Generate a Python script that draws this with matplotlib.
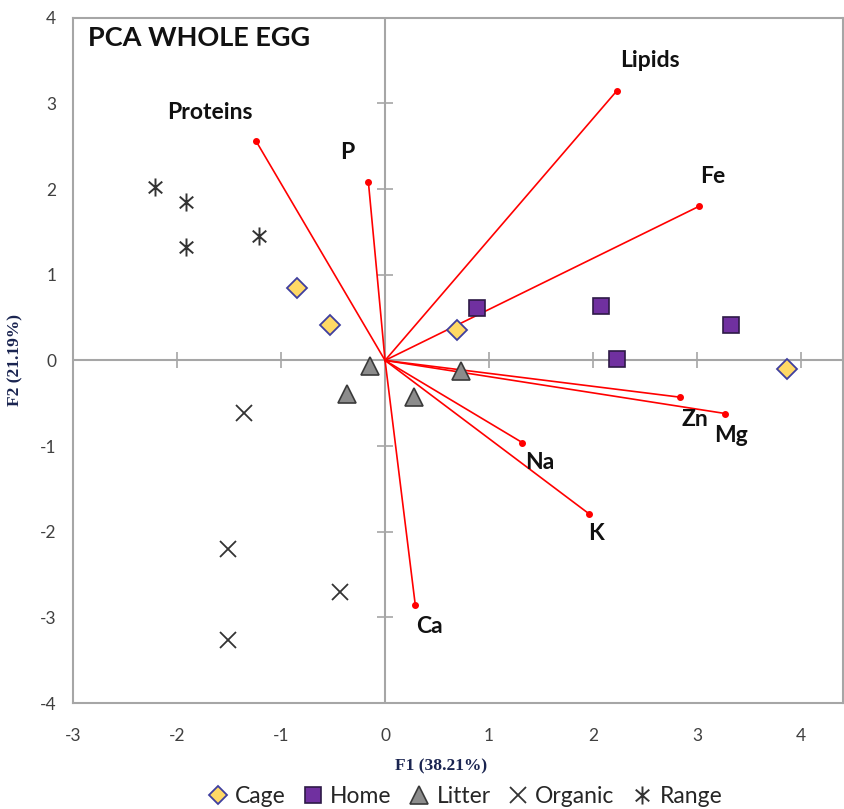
import matplotlib
matplotlib.use('Agg')
import matplotlib.pyplot as plt
from matplotlib.lines import Line2D
from matplotlib.path import Path

plt.rcParams['axes.unicode_minus'] = False

# --- data ---
cage_x = [-0.85, -0.53, 0.69, 3.86]
cage_y = [0.84, 0.41, 0.35, -0.10]
home_x = [0.88, 2.08, 2.23, 3.33]
home_y = [0.61, 0.64, 0.02, 0.41]
litter_x = [-0.14, -0.37, 0.28, 0.73]
litter_y = [-0.06, -0.39, -0.43, -0.12]
organic_x = [-1.36, -1.51, -1.51, -0.43]
organic_y = [-0.61, -2.20, -3.27, -2.70]
range_x = [-2.21, -1.91, -1.91, -1.21]
range_y = [2.02, 1.85, 1.32, 1.45]

var_names = ['Proteins', 'P', 'Lipids', 'Fe', 'Zn', 'Mg', 'Na', 'K', 'Ca']
var_x = [-1.24, -0.16, 2.23, 3.02, 2.84, 3.27, 1.32, 1.96, 0.29]
var_y = [2.56, 2.08, 3.15, 1.80, -0.43, -0.62, -0.96, -1.79, -2.85]
# label positions (centre of text)
lab_x = [-1.68, -0.36, 2.55, 3.15, 2.98, 3.33, 1.49, 2.03, 0.43]
lab_y = [2.90, 2.43, 3.50, 2.15, -0.69, -0.88, -1.19, -2.02, -3.11]

xticks = [-3, -2, -1, 0, 1, 2, 3, 4]
yticks = [-4, -3, -2, -1, 0, 1, 2, 3, 4]

# asterisk like Excel's: vertical bar plus an X
star = Path([(0, -1), (0, 1), (-0.75, -0.65), (0.75, 0.65), (-0.75, 0.65), (0.75, -0.65)],
            [Path.MOVETO, Path.LINETO] * 3)

fig = plt.figure(figsize=(8.44, 8.09), dpi=100)
ax = fig.add_axes([0.0865, 0.131, 0.912, 0.847])
ax.set_xlim(-3, 4.4)
ax.set_ylim(-4, 4)

frame = '#a6a6a6'
for s in ax.spines.values():
    s.set_color(frame)
    s.set_linewidth(1.5)
ax.set_xticks(xticks)
ax.set_yticks(yticks)
ax.tick_params(length=0, labelsize=12.5, labelcolor='#404040', pad=12)
ax.tick_params(axis='x', pad=18)
for lbl in ax.get_xticklabels() + ax.get_yticklabels():
    lbl.set_family('Lato')

# centre axes with small cross ticks
ax.axhline(0, color=frame, lw=1.5, zorder=1)
ax.axvline(0, color=frame, lw=1.5, zorder=1)
ax.plot([t for t in xticks if t != 0], [0] * (len(xticks) - 1), ls='none',
        marker='|', ms=11, mew=1.2, color=frame, zorder=1)
ax.plot([0] * (len(yticks) - 1), [t for t in yticks if t != 0], ls='none',
        marker='_', ms=11, mew=1.2, color=frame, zorder=1)

# variable vectors
for name, vx, vy, tx, ty in zip(var_names, var_x, var_y, lab_x, lab_y):
    ax.plot([0, vx], [0, vy], color='#ff0000', lw=1.2, zorder=2)
    ax.plot(vx, vy, 'o', color='#ff0000', ms=4, zorder=2)
    ax.text(tx, ty, name, ha='center', va='center', fontsize=16.5,
            fontweight='bold', family='Lato', color='#111111', zorder=4)

# sample groups
ax.plot(cage_x, cage_y, 'D', ms=10.5, mfc='#ffd966', mec='#3f3f9f', mew=1.3, ls='none', zorder=3)
ax.plot(home_x, home_y, 's', ms=11, mfc='#7030a0', mec='#2e1a47', mew=1.2, ls='none', zorder=3)
ax.plot(litter_x, litter_y, '^', ms=13, mfc='#8c8c8c', mec='#3a3a3a', mew=1.2, ls='none', zorder=3)
ax.plot(organic_x, organic_y, 'x', ms=12, mew=1.3, color='#333333', ls='none', zorder=3)
ax.plot(range_x, range_y, marker=star, ms=13, mew=1.4, color='#333333', ls='none', zorder=3)

ax.text(-2.86, 3.76, 'PCA WHOLE EGG', fontsize=19.5, fontweight='bold', family='Lato',
        color='#111111', ha='left', va='center')

navy = '#1a2450'
fig.text(0.522, 0.053, 'F1 (38.21%)', ha='center', va='center', fontsize=12.5,
         family='Liberation Serif', fontweight='bold', color=navy)
fig.text(0.018, 0.555, 'F2 (21.19%)', ha='center', va='center', rotation=90, fontsize=12.5,
         family='Liberation Serif', fontweight='bold', color=navy)

handles = [
    Line2D([], [], marker='D', ls='none', ms=9.5, mfc='#ffd966', mec='#3f3f9f', mew=1.3),
    Line2D([], [], marker='s', ls='none', ms=11, mfc='#7030a0', mec='#2e1a47', mew=1.2),
    Line2D([], [], marker='^', ls='none', ms=13, mfc='#8c8c8c', mec='#3a3a3a', mew=1.2),
    Line2D([], [], marker='x', ls='none', ms=12, mew=1.3, color='#333333'),
    Line2D([], [], marker=star, ls='none', ms=13, mew=1.4, color='#333333'),
]
fig.legend(handles, ['Cage', 'Home', 'Litter', 'Organic', 'Range'], loc='center',
           bbox_to_anchor=(0.55, 0.016), ncol=5, frameon=False, handlelength=1.0,
           handletextpad=0.25, columnspacing=0.7, prop={'family': 'Lato', 'size': 16.5},
           labelcolor='#262626')

fig.savefig('out.png', dpi=100)
